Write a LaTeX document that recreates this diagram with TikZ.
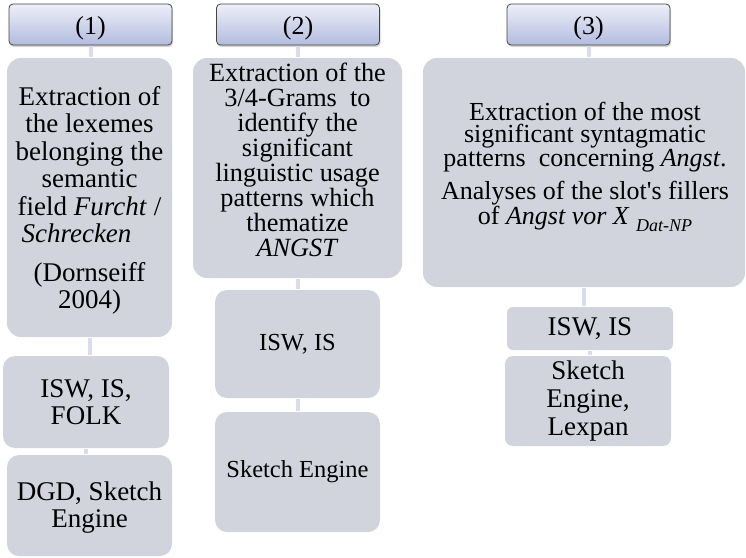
\documentclass[tikz,border=0pt]{standalone}
\usepackage{fontspec}
\setmainfont{Liberation Serif}[Ligatures=TeXOff]
\usetikzlibrary{shadows}
\definecolor{boxfill}{HTML}{D1D4DC}
\definecolor{headtop}{HTML}{EDEFF8}
\definecolor{headbot}{HTML}{B2BCDE}
\definecolor{headline}{HTML}{454545}
\definecolor{linkcol}{HTML}{D8DCEE}
\newcommand{\fs}[2]{\fontsize{#1}{#2}\selectfont}
\begin{document}
\begin{tikzpicture}[x=1pt,y=-1pt,
  txt/.style={font=\fs{27}{27.4}, align=center, text=black, inner sep=0pt},
  head/.style={txt, font=\fs{26}{27}, draw=headline, line width=0.8pt, rounded corners=4pt,
    top color=headtop, bottom color=headbot,
    drop shadow={opacity=0.35, shadow xshift=1pt, shadow yshift=-2pt},
    minimum width=163pt, minimum height=41pt, text height=20pt, text depth=0pt},
  card/.style={fill=boxfill, rounded corners=#1, inner sep=0pt},
  card/.default=14pt,
  link/.style={draw=linkcol, line width=4pt, shorten <=1pt, shorten >=1pt}
]
\useasboundingbox (0,0) rectangle (746,557);

% column 1
\node[head] (h1) at (90.5,24.5) {(1)};
\node[card, minimum width=165pt, minimum height=279pt] (b1) at (89.5,197.5) {};
\node[txt] (t1) at (89.5,200.5)
  {Extraction of\\the lexemes\\belonging the\\semantic\\field \textit{Furcht} /\\\textit{Schrecken}\rule{26pt}{0pt}\\[11.6pt](Dornseiff\\2004)};
\node[card=12pt, minimum width=166pt, minimum height=92pt] (s1a) at (86,402) {};
\node[txt] (u1) at (86,402) {ISW, IS,\\FOLK};
\node[card=12pt, minimum width=165pt, minimum height=101pt] (s1b) at (89.5,505.5) {};
\node[txt] (v1) at (89.5,507.5) {DGD, Sketch\\Engine};

% column 2
\node[head] (h2) at (298,24.5) {(2)};
\node[card, minimum width=209pt, minimum height=220pt] (b2) at (297.5,168) {};
\node[txt, font=\fs{26.3}{25}] (t2) at (297.5,160)
  {Extraction of the\\3/4-Grams\ \ to\\identify the\\significant\\linguistic usage\\patterns which\\thematize\\\textit{ANGST}};
\node[card=12pt, minimum width=165pt, minimum height=108pt] (s2a) at (297.5,344) {};
\node[txt, font=\fs{24.5}{25}] (u2) at (297.5,344) {ISW, IS};
\node[card=12pt, minimum width=165pt, minimum height=120pt] (s2b) at (297.5,472) {};
\node[txt, font=\fs{24.5}{25}] (v2) at (297.5,472) {Sketch Engine};

% column 3
\node[head] (h3) at (588.5,24.5) {(3)};
\node[card, minimum width=322pt, minimum height=229pt] (b3) at (584,172.5) {};
\node[txt, font=\fs{26}{22}] (t3) at (585,167)
  {Extraction of the most\\significant syntagmatic\\patterns\ \ concerning \textit{Angst}.\\[8pt]Analyses of the slot's fillers\\of \textit{Angst vor X} \raisebox{-7pt}{\fs{18}{18}\textit{Dat-NP}}};
\node[card=6pt, minimum width=166pt, minimum height=43pt] (s3a) at (590,328.5) {};
\node[txt] (u3) at (590,328.5) {ISW, IS};
\node[card=8pt, minimum width=166pt, minimum height=90pt] (s3b) at (588,401) {};
\node[txt, font=\fs{27}{28}] (v3) at (588,401) {Sketch\\Engine,\\Lexpan};

% connectors
\draw[link] (h1.south) -- (h1.south |- b1.north);
\draw[link] (b1.south) -- (b1.south |- s1a.north);
\draw[link] (s1a.south) -- (s1a.south |- s1b.north);
\draw[link] (h2.south) -- (h2.south |- b2.north);
\draw[link] (b2.south) -- (b2.south |- s2a.north);
\draw[link] (s2a.south) -- (s2a.south |- s2b.north);
\draw[link] (h3.south) -- (h3.south |- b3.north);
\draw[link] (b3.south) -- (b3.south |- s3a.north);
\draw[link] (s3a.south) -- (s3a.south |- s3b.north);
\end{tikzpicture}
\end{document}
